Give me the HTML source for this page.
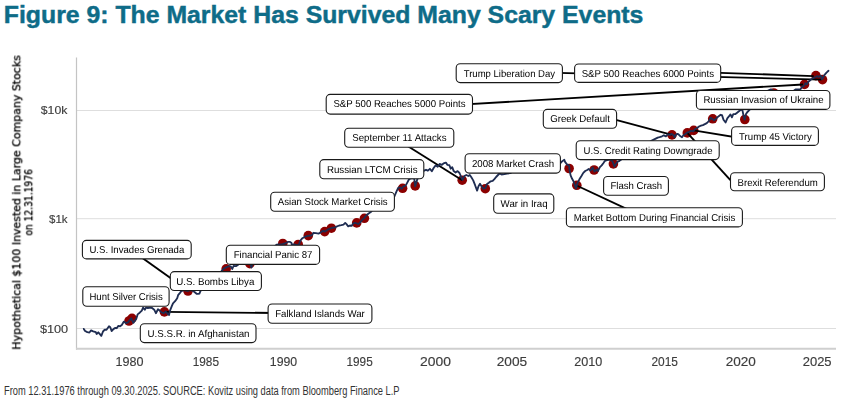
<!DOCTYPE html><html><head><meta charset="utf-8"><style>html,body{margin:0;padding:0;background:#fff;}svg{display:block;}</style></head><body>
<svg width="852" height="410" viewBox="0 0 852 410">
<rect width="852" height="410" fill="#fff"/>
<text x="3.8" y="23" font-family="Liberation Sans, Arial, sans-serif" font-weight="bold" font-size="24" fill="#0e6c88" stroke="#0e6c88" stroke-width="0.45" textLength="639.6" lengthAdjust="spacingAndGlyphs">Figure 9: The Market Has Survived Many Scary Events</text>
<line x1="77" y1="110.5" x2="836" y2="110.5" stroke="#dedede" stroke-width="1"/>
<line x1="77" y1="218.7" x2="836" y2="218.7" stroke="#dedede" stroke-width="1"/>
<line x1="77" y1="328.5" x2="836" y2="328.5" stroke="#dedede" stroke-width="1"/>
<line x1="76.5" y1="57.6" x2="76.5" y2="349.7" stroke="#c4c4c4" stroke-width="1.2"/>
<line x1="76" y1="348.8" x2="836" y2="348.8" stroke="#cfcfcf" stroke-width="2"/>
<text x="54.1" y="114.3" text-anchor="middle" font-family="Liberation Sans, Arial, sans-serif" font-size="11.7" fill="#3c3c3c" stroke="#3c3c3c" stroke-width="0.15" textLength="26.6" lengthAdjust="spacingAndGlyphs" style="will-change:transform">$10k</text>
<text x="58.25" y="223.0" text-anchor="middle" font-family="Liberation Sans, Arial, sans-serif" font-size="11.7" fill="#3c3c3c" stroke="#3c3c3c" stroke-width="0.15" textLength="18.5" lengthAdjust="spacingAndGlyphs" style="will-change:transform">$1k</text>
<text x="54.05" y="332.7" text-anchor="middle" font-family="Liberation Sans, Arial, sans-serif" font-size="11.7" fill="#3c3c3c" stroke="#3c3c3c" stroke-width="0.15" textLength="28.3" lengthAdjust="spacingAndGlyphs" style="will-change:transform">$100</text>
<text x="129.5" y="365.7" text-anchor="middle" font-family="Liberation Sans, Arial, sans-serif" font-size="12.4" fill="#3c3c3c" stroke="#3c3c3c" stroke-width="0.15" textLength="28" lengthAdjust="spacingAndGlyphs" style="will-change:transform">1980</text>
<text x="205.85" y="365.7" text-anchor="middle" font-family="Liberation Sans, Arial, sans-serif" font-size="12.4" fill="#3c3c3c" stroke="#3c3c3c" stroke-width="0.15" textLength="26.3" lengthAdjust="spacingAndGlyphs" style="will-change:transform">1985</text>
<text x="283.5" y="365.7" text-anchor="middle" font-family="Liberation Sans, Arial, sans-serif" font-size="12.4" fill="#3c3c3c" stroke="#3c3c3c" stroke-width="0.15" textLength="27.4" lengthAdjust="spacingAndGlyphs" style="will-change:transform">1990</text>
<text x="359.6" y="365.7" text-anchor="middle" font-family="Liberation Sans, Arial, sans-serif" font-size="12.4" fill="#3c3c3c" stroke="#3c3c3c" stroke-width="0.15" textLength="26.2" lengthAdjust="spacingAndGlyphs" style="will-change:transform">1995</text>
<text x="435.45" y="365.7" text-anchor="middle" font-family="Liberation Sans, Arial, sans-serif" font-size="12.4" fill="#3c3c3c" stroke="#3c3c3c" stroke-width="0.15" textLength="30.9" lengthAdjust="spacingAndGlyphs" style="will-change:transform">2000</text>
<text x="511.95" y="365.7" text-anchor="middle" font-family="Liberation Sans, Arial, sans-serif" font-size="12.4" fill="#3c3c3c" stroke="#3c3c3c" stroke-width="0.15" textLength="30.5" lengthAdjust="spacingAndGlyphs" style="will-change:transform">2005</text>
<text x="588.25" y="365.7" text-anchor="middle" font-family="Liberation Sans, Arial, sans-serif" font-size="12.4" fill="#3c3c3c" stroke="#3c3c3c" stroke-width="0.15" textLength="28.1" lengthAdjust="spacingAndGlyphs" style="will-change:transform">2010</text>
<text x="664.75" y="365.7" text-anchor="middle" font-family="Liberation Sans, Arial, sans-serif" font-size="12.4" fill="#3c3c3c" stroke="#3c3c3c" stroke-width="0.15" textLength="26.5" lengthAdjust="spacingAndGlyphs" style="will-change:transform">2015</text>
<text x="740.8" y="365.7" text-anchor="middle" font-family="Liberation Sans, Arial, sans-serif" font-size="12.4" fill="#3c3c3c" stroke="#3c3c3c" stroke-width="0.15" textLength="30.2" lengthAdjust="spacingAndGlyphs" style="will-change:transform">2020</text>
<text x="817.15" y="365.7" text-anchor="middle" font-family="Liberation Sans, Arial, sans-serif" font-size="12.4" fill="#3c3c3c" stroke="#3c3c3c" stroke-width="0.15" textLength="28.9" lengthAdjust="spacingAndGlyphs" style="will-change:transform">2025</text>
<text transform="translate(20.3,202.4) rotate(-90)" text-anchor="middle" font-family="DejaVu Sans, sans-serif" font-size="10.9" fill="#000" stroke="#000" stroke-width="0.3" textLength="294.4" lengthAdjust="spacingAndGlyphs" style="will-change:transform">Hypothetical $100 Invested in Large Company Stocks</text>
<text transform="translate(32.3,202.4) rotate(-90)" text-anchor="middle" font-family="DejaVu Sans, sans-serif" font-size="10.9" fill="#000" stroke="#000" stroke-width="0.3" textLength="66.5" lengthAdjust="spacingAndGlyphs" style="will-change:transform">on 12.31.1976</text>
<circle cx="129" cy="321" r="4.8" fill="#8b0000"/>
<circle cx="132" cy="318.3" r="4.8" fill="#8b0000"/>
<circle cx="164.4" cy="311.9" r="4.8" fill="#8b0000"/>
<circle cx="188" cy="291" r="4.8" fill="#8b0000"/>
<circle cx="226.2" cy="268.8" r="4.8" fill="#8b0000"/>
<circle cx="249.9" cy="263.7" r="4.8" fill="#8b0000"/>
<circle cx="282.8" cy="243.5" r="4.8" fill="#8b0000"/>
<circle cx="298.2" cy="244.5" r="4.8" fill="#8b0000"/>
<circle cx="308.3" cy="235.6" r="4.8" fill="#8b0000"/>
<circle cx="324.7" cy="231.6" r="4.8" fill="#8b0000"/>
<circle cx="331.4" cy="228.2" r="4.8" fill="#8b0000"/>
<circle cx="356.7" cy="222.9" r="4.8" fill="#8b0000"/>
<circle cx="364.4" cy="218.3" r="4.8" fill="#8b0000"/>
<circle cx="402.6" cy="188.3" r="4.8" fill="#8b0000"/>
<circle cx="415.2" cy="185.9" r="4.8" fill="#8b0000"/>
<circle cx="462.2" cy="180.2" r="4.8" fill="#8b0000"/>
<circle cx="485.3" cy="188.7" r="4.8" fill="#8b0000"/>
<circle cx="569.1" cy="168.5" r="4.8" fill="#8b0000"/>
<circle cx="576.8" cy="185.3" r="4.8" fill="#8b0000"/>
<circle cx="594.1" cy="170" r="4.8" fill="#8b0000"/>
<circle cx="613.4" cy="163.9" r="4.8" fill="#8b0000"/>
<circle cx="672" cy="134.9" r="4.8" fill="#8b0000"/>
<circle cx="687.3" cy="132.9" r="4.8" fill="#8b0000"/>
<circle cx="693.7" cy="130.4" r="4.8" fill="#8b0000"/>
<circle cx="712.7" cy="118.8" r="4.8" fill="#8b0000"/>
<circle cx="744.8" cy="119.5" r="4.8" fill="#8b0000"/>
<circle cx="773.8" cy="93" r="4.8" fill="#8b0000"/>
<circle cx="804.5" cy="84.4" r="4.8" fill="#8b0000"/>
<circle cx="815.9" cy="75.6" r="4.8" fill="#8b0000"/>
<circle cx="822.5" cy="79.6" r="4.8" fill="#8b0000"/>
<line x1="135" y1="252.7" x2="188" y2="290.6" stroke="#000" stroke-width="1.9"/>
<line x1="320" y1="313.5" x2="164.5" y2="311.9" stroke="#000" stroke-width="1.9"/>
<line x1="400" y1="141.3" x2="462.2" y2="180.3" stroke="#000" stroke-width="1.9"/>
<line x1="640" y1="215.2" x2="576.6" y2="185.5" stroke="#000" stroke-width="1.9"/>
<line x1="600" y1="115.6" x2="672" y2="134.9" stroke="#000" stroke-width="1.9"/>
<line x1="760" y1="141.2" x2="693.7" y2="130.4" stroke="#000" stroke-width="1.9"/>
<line x1="730.4" y1="180.1" x2="687.3" y2="132.9" stroke="#000" stroke-width="1.9"/>
<line x1="440" y1="105.9" x2="803" y2="84.5" stroke="#000" stroke-width="1.9"/>
<line x1="648" y1="70.4" x2="813.7" y2="76.1" stroke="#000" stroke-width="1.9"/>
<line x1="509" y1="71.6" x2="821.5" y2="79.6" stroke="#000" stroke-width="1.9"/>
<path d="M83.8,328.9 L85.1,331 L87.3,332.1 L89.4,332.5 L91.1,330.4 L93.2,331.3 L95.8,332.1 L96.6,334 L98.3,332.3 L100.1,334.4 L101.3,335.9 L103,331.5 L104.7,329.7 L106.5,329.7 L109,326.3 L110.3,327.2 L111.6,331 L113.7,328.9 L115.4,327.9 L116.7,328.2 L118.4,325.9 L120.1,326.3 L121.8,325 L123.9,321.6 L126.1,323.3 L128.2,322.1 L131.2,318.2 L133.3,322.9 L136.3,318.7 L137.6,314.4 L139.7,312.7 L141.8,310.6 L143.1,307.6 L144.8,309.7 L146.1,307.6 L147.8,308 L150.4,307.6 L152.1,308 L154.2,309.7 L155.9,313.2 L158,309.3 L159.7,310.6 L161.5,312.3 L164,313.2 L165.7,311.5 L167.8,314 L169.1,314.9 L170,310.6 L171.7,306.3 L173,303.3 L175.1,301.2 L177.2,298.2 L178.1,295.2 L179.8,293.1 L181.1,291.4 L184,290 L186,290.5 L188,291 L190,290 L192,290.5 L194.5,292 L196.6,293.8 L198,293.8 L199.4,293.6 L200.4,291.2 L202,289 L205,287 L208,285 L211,282 L214,279 L217,276 L220,273 L222.3,270.2 L224.2,268.3 L227.2,266.8 L229.1,266.1 L230.8,266.5 L232.3,269 L233.5,266 L235.9,266.1 L237.9,264.9 L240,262 L243,258 L246,255 L248.5,257 L250,263 L251.4,267.5 L253,262 L256,259 L260,257 L264,255 L268,252 L272,248.5 L276.6,244.7 L279,244.3 L282.3,244.1 L285,243.5 L288.1,241.8 L289.7,241.8 L291.4,242.7 L291.8,244.7 L294,244.5 L296.5,245 L298.8,244.7 L300.4,240.6 L302,238.6 L304.5,236.9 L307,236.1 L310.3,235.5 L311.9,235.3 L313.5,232.8 L316,233.2 L318.5,233.6 L320.9,232.4 L322.6,231 L325.1,231.5 L327.7,229.7 L330.2,228.5 L332.8,227.6 L334.9,227.6 L337.1,226.3 L339.2,225.5 L341.3,225.1 L343.5,224.6 L345.2,222.9 L346.5,224.2 L348.2,226.3 L349.9,225.5 L351.6,225.9 L353.3,223.3 L355,222.9 L356.7,223.3 L358.4,224.2 L360.1,222.5 L362.2,219.9 L364.4,217.8 L366.5,215.2 L368.6,213.5 L371.2,211.8 L373,209.5 L376,207.5 L379,206 L382,204 L385,203 L388,201 L391,199 L394.3,196.6 L396.2,192.2 L398.2,187.8 L400.1,187.3 L401.6,188.8 L403.5,186.3 L405.5,185.9 L407.4,182.4 L408.9,179.5 L410.4,178.5 L412.5,178 L414.3,179 L415.2,186.3 L417.2,179.5 L419,176 L421,174 L424,170.7 L426,169.8 L427.9,170.7 L429.9,168.8 L431.8,171.2 L433.8,167.8 L435.7,165.4 L437.7,166.8 L439.6,163.9 L441.6,164.9 L443.5,163.4 L445.9,162.6 L447.3,164.8 L449.3,165.2 L450.7,168.7 L452.2,167.2 L453.7,171.1 L455.6,172.6 L457.6,171.1 L459.5,173 L461,176.5 L462.6,179.9 L464.4,176 L466.3,175 L468.3,176 L469.8,175 L471.2,177 L473.2,180.4 L475.1,185.2 L477.1,190.6 L478.5,186.2 L480,183.8 L481.5,186.2 L483.4,188.7 L485.4,188.2 L486.8,184.3 L488.8,182.8 L490.7,181.3 L492.7,180.9 L494.6,178.9 L496.1,177 L498,175 L499.5,173.5 L501.5,174.5 L504.4,174.1 L507,173.5 L510.2,173.2 L514,171 L518,169 L522,168 L526,166 L530,165 L534,163 L538,162 L542,160 L546,158 L550,157 L553,156 L556,157 L558,159 L560.9,162.7 L562.3,161.2 L564.3,159.8 L565.2,162.2 L567.2,164.6 L569.1,165.6 L569.6,170.5 L570.6,175.4 L572.1,178.8 L573.5,181.2 L575.5,187.1 L576,188.5 L577.4,183.2 L579.4,179.3 L581.3,176.3 L583.3,172.9 L585.2,171 L587.2,170 L588.7,169 L590.6,170.5 L592.6,167.6 L594.5,171.5 L597,169.5 L597.9,171 L599.9,167.1 L601.7,165.4 L603.3,163.3 L605,160.8 L607,160.2 L610,159.5 L612.4,161.2 L614.5,166.6 L616.6,162.9 L617.8,161.6 L619.5,160.8 L625,157 L630,154 L635,151 L640,148 L645,145 L651.8,140.6 L655.7,138.7 L657.7,137.7 L659.6,137.2 L662,136.3 L663.9,135.3 L665.9,136.3 L667.8,134.3 L669.8,134.8 L671.7,133.9 L673.7,135.3 L674.6,137.3 L676.1,134.3 L677.6,133.9 L679,134.8 L680.5,136.3 L682,137.3 L683.4,135.3 L685.4,133.9 L687.3,132.4 L689.3,131.9 L691.2,130.9 L693.2,131.4 L695.1,129 L697.1,128 L699,126.5 L701,125.6 L702.9,125.1 L704.9,124.1 L706.8,123.1 L708.8,121.2 L710.7,117.8 L712.7,119.2 L714.1,120.2 L716.1,118.7 L717.8,116.9 L720.6,114.8 L722,115.1 L723.5,119.7 L725.6,122.5 L727.3,118.3 L729.1,116.2 L730.5,114.4 L731.9,117.3 L733.3,114.1 L735.4,114.1 L736.8,113 L738.9,111.3 L741.1,109.5 L742.5,110.6 L743.5,115.5 L744.6,119.7 L746,114.1 L747.4,112 L749.5,109.9 L752,107 L755,104 L758,101 L761,98 L764,94 L767,91 L770.8,89.4 L773.6,91 L776,95 L779,99 L781,97 L783,100 L786,96 L789,94 L792,92 L795.5,89.4 L800.5,89.3 L802.3,86.6 L804,85.8 L805.3,83.1 L806.7,84.4 L808.4,81.8 L811,79.6 L812.8,78.3 L815.5,77 L817.2,76.1 L818.5,77 L820.7,75.6 L822.1,79.2 L824.3,75.2 L826.5,72.6 L828.5,70.8" fill="none" stroke="#1f2d52" stroke-width="1.85" stroke-linejoin="round" stroke-linecap="round"/>
<rect x="456.2" y="63.8" width="106.2" height="18.8" rx="4" fill="#fff" stroke="#1a1a1a" stroke-width="1.1"/>
<text x="509.4" y="76.7" text-anchor="middle" font-family="Liberation Sans, Arial, sans-serif" font-size="10" fill="#000" textLength="91.4" lengthAdjust="spacingAndGlyphs" style="will-change:transform" text-rendering="geometricPrecision">Trump Liberation Day</text>
<rect x="574.6" y="64" width="146.1" height="18.4" rx="4" fill="#fff" stroke="#1a1a1a" stroke-width="1.1"/>
<text x="647.85" y="76.9" text-anchor="middle" font-family="Liberation Sans, Arial, sans-serif" font-size="10" fill="#000" textLength="132.3" lengthAdjust="spacingAndGlyphs" style="will-change:transform" text-rendering="geometricPrecision">S&amp;P 500 Reaches 6000 Points</text>
<rect x="326.2" y="94.4" width="146.3" height="19.7" rx="4" fill="#fff" stroke="#1a1a1a" stroke-width="1.1"/>
<text x="399.45" y="107.3" text-anchor="middle" font-family="Liberation Sans, Arial, sans-serif" font-size="10" fill="#000" textLength="132.1" lengthAdjust="spacingAndGlyphs" style="will-change:transform" text-rendering="geometricPrecision">S&amp;P 500 Reaches 5000 Points</text>
<rect x="696.4" y="90.5" width="133.5" height="18.9" rx="4" fill="#fff" stroke="#1a1a1a" stroke-width="1.1"/>
<text x="763.5" y="103.4" text-anchor="middle" font-family="Liberation Sans, Arial, sans-serif" font-size="10" fill="#000" textLength="120.2" lengthAdjust="spacingAndGlyphs" style="will-change:transform" text-rendering="geometricPrecision">Russian Invasion of Ukraine</text>
<rect x="543.3" y="109.4" width="73.3" height="18.8" rx="4" fill="#fff" stroke="#1a1a1a" stroke-width="1.1"/>
<text x="580.05" y="122.3" text-anchor="middle" font-family="Liberation Sans, Arial, sans-serif" font-size="10" fill="#000" textLength="59.7" lengthAdjust="spacingAndGlyphs" style="will-change:transform" text-rendering="geometricPrecision">Greek Default</text>
<rect x="731.6" y="126.8" width="86.8" height="18.6" rx="4" fill="#fff" stroke="#1a1a1a" stroke-width="1.1"/>
<text x="775.4" y="139.7" text-anchor="middle" font-family="Liberation Sans, Arial, sans-serif" font-size="10" fill="#000" textLength="72.6" lengthAdjust="spacingAndGlyphs" style="will-change:transform" text-rendering="geometricPrecision">Trump 45 Victory</text>
<rect x="344.7" y="128.2" width="109.1" height="19.1" rx="4" fill="#fff" stroke="#1a1a1a" stroke-width="1.1"/>
<text x="399.35" y="141.1" text-anchor="middle" font-family="Liberation Sans, Arial, sans-serif" font-size="10" fill="#000" textLength="94.3" lengthAdjust="spacingAndGlyphs" style="will-change:transform" text-rendering="geometricPrecision">September 11 Attacks</text>
<rect x="576.2" y="140.8" width="143" height="18.8" rx="4" fill="#fff" stroke="#1a1a1a" stroke-width="1.1"/>
<text x="648" y="153.7" text-anchor="middle" font-family="Liberation Sans, Arial, sans-serif" font-size="10" fill="#000" textLength="129" lengthAdjust="spacingAndGlyphs" style="will-change:transform" text-rendering="geometricPrecision">U.S. Credit Rating Downgrade</text>
<rect x="319.8" y="159.6" width="104" height="19.1" rx="4" fill="#fff" stroke="#1a1a1a" stroke-width="1.1"/>
<text x="372.25" y="172.5" text-anchor="middle" font-family="Liberation Sans, Arial, sans-serif" font-size="10" fill="#000" textLength="90.7" lengthAdjust="spacingAndGlyphs" style="will-change:transform" text-rendering="geometricPrecision">Russian LTCM Crisis</text>
<rect x="465.1" y="153.7" width="95.3" height="19.4" rx="4" fill="#fff" stroke="#1a1a1a" stroke-width="1.1"/>
<text x="513" y="166.6" text-anchor="middle" font-family="Liberation Sans, Arial, sans-serif" font-size="10" fill="#000" textLength="82.2" lengthAdjust="spacingAndGlyphs" style="will-change:transform" text-rendering="geometricPrecision">2008 Market Crash</text>
<rect x="603.6" y="176.5" width="64.8" height="18.8" rx="4" fill="#fff" stroke="#1a1a1a" stroke-width="1.1"/>
<text x="636.3" y="189.4" text-anchor="middle" font-family="Liberation Sans, Arial, sans-serif" font-size="10" fill="#000" textLength="51.8" lengthAdjust="spacingAndGlyphs" style="will-change:transform" text-rendering="geometricPrecision">Flash Crash</text>
<rect x="730.5" y="172.8" width="93.9" height="17.9" rx="4" fill="#fff" stroke="#1a1a1a" stroke-width="1.1"/>
<text x="777.65" y="185.7" text-anchor="middle" font-family="Liberation Sans, Arial, sans-serif" font-size="10" fill="#000" textLength="80.3" lengthAdjust="spacingAndGlyphs" style="will-change:transform" text-rendering="geometricPrecision">Brexit Referendum</text>
<rect x="493.7" y="193.9" width="60.1" height="19.3" rx="4" fill="#fff" stroke="#1a1a1a" stroke-width="1.1"/>
<text x="524.1" y="206.8" text-anchor="middle" font-family="Liberation Sans, Arial, sans-serif" font-size="10" fill="#000" textLength="47" lengthAdjust="spacingAndGlyphs" style="will-change:transform" text-rendering="geometricPrecision">War in Iraq</text>
<rect x="270.7" y="192.3" width="123.7" height="19" rx="4" fill="#fff" stroke="#1a1a1a" stroke-width="1.1"/>
<text x="332.7" y="205.2" text-anchor="middle" font-family="Liberation Sans, Arial, sans-serif" font-size="10" fill="#000" textLength="109.8" lengthAdjust="spacingAndGlyphs" style="will-change:transform" text-rendering="geometricPrecision">Asian Stock Market Crisis</text>
<rect x="566.4" y="207.7" width="176" height="19.2" rx="4" fill="#fff" stroke="#1a1a1a" stroke-width="1.1"/>
<text x="654.5" y="220.6" text-anchor="middle" font-family="Liberation Sans, Arial, sans-serif" font-size="10" fill="#000" textLength="161.4" lengthAdjust="spacingAndGlyphs" style="will-change:transform" text-rendering="geometricPrecision">Market Bottom During Financial Crisis</text>
<rect x="82.4" y="240.4" width="108.8" height="18.5" rx="4" fill="#fff" stroke="#1a1a1a" stroke-width="1.1"/>
<text x="136.85" y="253.3" text-anchor="middle" font-family="Liberation Sans, Arial, sans-serif" font-size="10" fill="#000" textLength="94.9" lengthAdjust="spacingAndGlyphs" style="will-change:transform" text-rendering="geometricPrecision">U.S. Invades Grenada</text>
<rect x="226.3" y="245.3" width="93.3" height="19.1" rx="4" fill="#fff" stroke="#1a1a1a" stroke-width="1.1"/>
<text x="273.1" y="258.2" text-anchor="middle" font-family="Liberation Sans, Arial, sans-serif" font-size="10" fill="#000" textLength="78.8" lengthAdjust="spacingAndGlyphs" style="will-change:transform" text-rendering="geometricPrecision">Financial Panic 87</text>
<rect x="170.3" y="271.6" width="91.1" height="18.9" rx="4" fill="#fff" stroke="#1a1a1a" stroke-width="1.1"/>
<text x="215.3" y="284.5" text-anchor="middle" font-family="Liberation Sans, Arial, sans-serif" font-size="10" fill="#000" textLength="78.2" lengthAdjust="spacingAndGlyphs" style="will-change:transform" text-rendering="geometricPrecision">U.S. Bombs Libya</text>
<rect x="82.8" y="286.7" width="86.3" height="19.5" rx="4" fill="#fff" stroke="#1a1a1a" stroke-width="1.1"/>
<text x="126.1" y="299.6" text-anchor="middle" font-family="Liberation Sans, Arial, sans-serif" font-size="10" fill="#000" textLength="73.4" lengthAdjust="spacingAndGlyphs" style="will-change:transform" text-rendering="geometricPrecision">Hunt Silver Crisis</text>
<rect x="268.1" y="304" width="103.8" height="19.2" rx="4" fill="#fff" stroke="#1a1a1a" stroke-width="1.1"/>
<text x="320" y="316.9" text-anchor="middle" font-family="Liberation Sans, Arial, sans-serif" font-size="10" fill="#000" textLength="89.6" lengthAdjust="spacingAndGlyphs" style="will-change:transform" text-rendering="geometricPrecision">Falkland Islands War</text>
<rect x="140.3" y="323.8" width="115.7" height="18.8" rx="4" fill="#fff" stroke="#1a1a1a" stroke-width="1.1"/>
<text x="198.5" y="336.7" text-anchor="middle" font-family="Liberation Sans, Arial, sans-serif" font-size="10" fill="#000" textLength="102" lengthAdjust="spacingAndGlyphs" style="will-change:transform" text-rendering="geometricPrecision">U.S.S.R. in Afghanistan</text>
<text x="4" y="394.9" font-family="Liberation Sans, Arial, sans-serif" font-size="12" fill="#333" textLength="395.5" lengthAdjust="spacingAndGlyphs">From 12.31.1976 through 09.30.2025. SOURCE: Kovitz using data from Bloomberg Finance L.P</text>
</svg></body></html>
